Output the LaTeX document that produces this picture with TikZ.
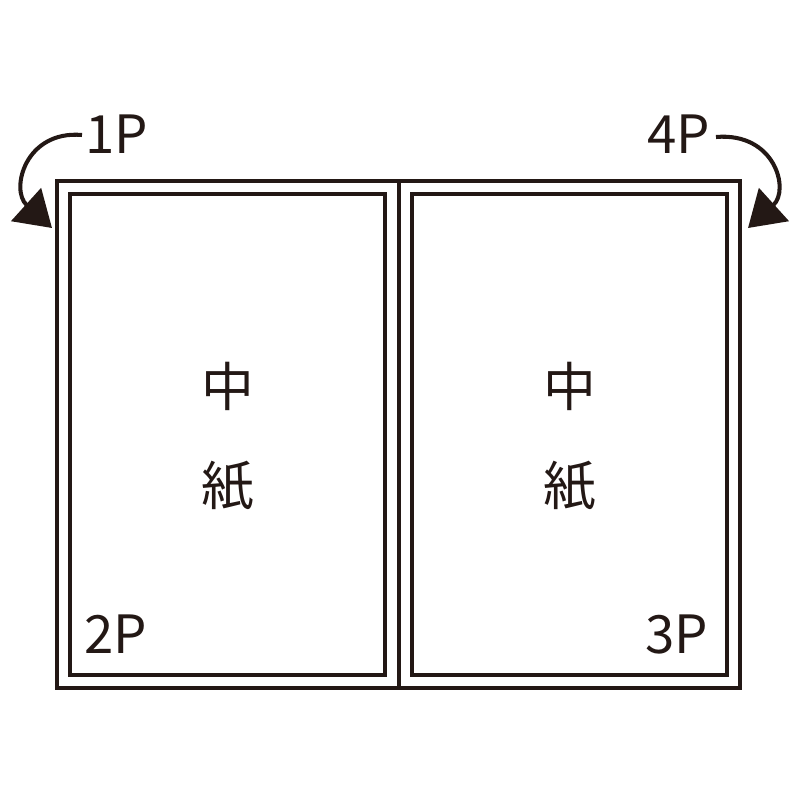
\documentclass[tikz,border=0pt]{standalone}
\usepackage{fontspec}
\newfontfamily\cjk{Noto Sans CJK JP}
\usepackage{xcolor}
\usetikzlibrary{arrows.meta}
\definecolor{ink}{HTML}{231815}

\begin{document}
\begin{tikzpicture}[x=0.01cm, y=-0.01cm, line width=1.15pt, draw=ink,
    every node/.style={text=ink, font=\cjk\fontsize{15}{15}\selectfont},
    turn/.style={-{Triangle[length=3.5mm, width=4.4mm]}, line width=1.15pt}]
       \useasboundingbox (0, 0) rectangle (800, 800);

       % sheet, folded in the middle
       \coordinate (o1) at (57, 181);
       \coordinate (o2) at (740, 688);
       \draw (o1) rectangle (o2);
       \draw (399, 181) -- (399, 688);

       % pages
       \draw (70, 194) rectangle (385, 675);   % left page
       \draw (412, 194) rectangle (727, 675);  % right page

       % page labels
       \node (p1) at (117, 134) {1P};
       \node (p4) at (679, 134) {4P};
       \node (p2) at (116, 634) {2P};
       \node (p3) at (677, 634) {3P};

       % inner sheet
       \node (naka1) at (228, 386) {中};
       \node (shi1) at (228, 486) {紙};
       \node (naka2) at (570, 386) {中};
       \node (shi2) at (570, 486) {紙};

       % turning arrows
       \coordinate (t1) at (52, 228);
       \coordinate (t4) at (748, 228);
       \draw [turn] (82, 135) .. controls (25, 130) and (10, 190) .. (t1);
       \draw [turn] (716, 137) .. controls (775, 132) and (790, 190) .. (t4);
\end{tikzpicture}
\end{document}
